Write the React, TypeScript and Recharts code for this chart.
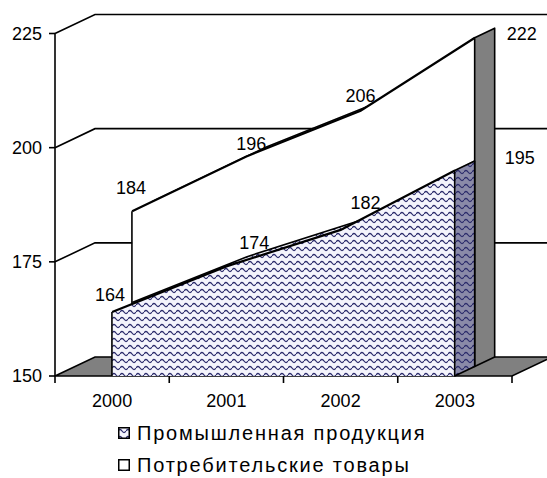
import { ComposedChart, Area, Bar, XAxis, YAxis, CartesianGrid, Legend } from "recharts";

const years = ["2000", "2001", "2002", "2003"];
const industry = [164, 174, 182, 195];
const consumer = [184, 196, 206, 222];
const yTicks = [150, 175, 200, 225];
const industryName = "Промышленная продукция";
const consumerName = "Потребительские товары";

const data = years.map((year, i) => ({ year, pos: i, industry: industry[i], consumer: consumer[i] }));
// ticks of the position axis: whole numbers are category edges, halves are the year labels
const slotTicks = [...years.flatMap((_, i) => [i, i + 0.5]), years.length];

// layout of the pseudo-3D box
const CHART_W = 560;
const CHART_H = 478;
const PLOT_TOP = 33.5;
const PLOT_BOTTOM = 376;
const PLOT_RIGHT = 552;
const AXIS_W = 55;
const X_AXIS_H = 40;
const DEPTH_X = 40;
const DEPTH_Y = 19;
const Y_MIN = 150;
const Y_MAX = 225;
const pxPerUnit = (PLOT_BOTTOM - PLOT_TOP) / (Y_MAX - Y_MIN);
// y domain / x padding for a plane pushed back by fraction f of the depth
const domainAt = (f: number): [number, number] => {
  const lift = (DEPTH_Y * f) / pxPerUnit;
  return [Y_MIN - lift, Y_MAX - lift];
};
const padAt = (f: number) => ({ left: DEPTH_X * f, right: DEPTH_X * (1 - f) });

const BLACK = "#000";
const FONT = 18;
const SIDE_GRAY = "#808080";
const WALL_W = 1.6;

// label offsets from each point
const industryNudge = [[-2, -17], [28, -23], [25, -27], [65, -13]];
const consumerNudge = [[-1, -23], [5, -12], [0, -15], [47, -4]];

function WallLine(p: any) {
  const { x1, x2, y1 } = p;
  if (Math.abs(y1 - PLOT_BOTTOM) < 1) {
    const pts = [
      [x1, y1],
      [x2 - DEPTH_X, y1],
      [x2, y1 - DEPTH_Y],
      [x1 + DEPTH_X, y1 - DEPTH_Y],
    ];
    return (
      <polygon
        points={pts.map((q) => q.join(",")).join(" ")}
        fill={SIDE_GRAY}
        stroke={BLACK}
        strokeWidth={WALL_W}
      />
    );
  }
  return (
    <polyline
      points={`${x1},${y1} ${x1 + DEPTH_X},${y1 - DEPTH_Y} ${x2},${y1 - DEPTH_Y}`}
      fill="none"
      stroke={BLACK}
      strokeWidth={WALL_W}
    />
  );
}

function XTick(p: any) {
  const { x, y, payload } = p;
  const v = payload.value;
  if (Number.isInteger(v)) {
    return <line x1={x} y1={y} x2={x} y2={y + 7} stroke={BLACK} strokeWidth={WALL_W} />;
  }
  return (
    <text x={x} y={y + 31} textAnchor="middle" fontSize={FONT} fill={BLACK}>
      {years[Math.floor(v)]}
    </text>
  );
}

// left edge on the first point, extruded side face on the last one
const sideShape = (fill: string) => (p: any) => {
  const { x, y, width, height, index } = p;
  const cx = x + width / 2;
  const bottom = y + height;
  if (index === 0) {
    return <line x1={cx} y1={y} x2={cx} y2={bottom} stroke={BLACK} strokeWidth={1.6} />;
  }
  if (index !== years.length - 1) return <g />;
  const dx = DEPTH_X / 2;
  const dy = DEPTH_Y / 2;
  return (
    <polygon
      points={`${cx},${y} ${cx + dx},${y - dy} ${cx + dx},${bottom - dy} ${cx},${bottom}`}
      fill={fill}
      stroke={BLACK}
      strokeWidth={1.6}
      strokeLinejoin="round"
    />
  );
};

const valueLabel = (values: number[], nudge: number[][]) => (p: any) => {
  const x = p.x ?? p.viewBox?.x;
  const y = p.y ?? p.viewBox?.y;
  const [dx, dy] = nudge[p.index] ?? [0, -15];
  return (
    <text x={x + dx} y={y + dy} textAnchor="middle" dominantBaseline="central" fontSize={FONT} fill={BLACK}>
      {values[p.index]}
    </text>
  );
};

function WavePattern({ id, bg }: { id: string; bg: string }) {
  return (
    <pattern id={id} width={8} height={7} patternUnits="userSpaceOnUse">
      <rect width={8} height={7} fill={bg} />
      <path d="M0 4 Q2 1 4 4 T8 4" fill="none" stroke="#2c2c6c" strokeWidth={1.3} />
    </pattern>
  );
}

function LegendBox() {
  const items = [
    { name: industryName, fill: "url(#waveIcon)" },
    { name: consumerName, fill: "#fff" },
  ];
  return (
    <div style={{ fontSize: 20, letterSpacing: "1.8px", color: BLACK, lineHeight: "32px" }}>
      {items.map((it) => (
        <div key={it.name} style={{ display: "flex", alignItems: "center", whiteSpace: "nowrap" }}>
          <svg width={12} height={12} style={{ marginRight: 7 }}>
            <defs>
              <WavePattern id="waveIcon" bg="#f4f4fc" />
            </defs>
            <rect x={0.75} y={0.75} width={10.5} height={10.5} fill={it.fill} stroke={BLACK} strokeWidth={1.5} />
          </svg>
          {it.name}
        </div>
      ))}
    </div>
  );
}

export default function App() {
  return (
    <div
      style={{
        position: "absolute",
        left: 0,
        top: 0,
        width: 547,
        height: 478,
        overflow: "hidden",
        background: "#fff",
        fontFamily: "'Liberation Sans', Arial, sans-serif",
      }}
    >
      <ComposedChart
        width={CHART_W}
        height={CHART_H}
        data={data}
        margin={{ top: PLOT_TOP, right: CHART_W - PLOT_RIGHT, bottom: CHART_H - PLOT_BOTTOM - X_AXIS_H, left: 0 }}
      >
        <defs>
          <WavePattern id="wave" bg="#f4f4fc" />
          <WavePattern id="waveDark" bg="#8a8aa8" />
        </defs>

        {/* category axes for the front, middle and back planes */}
        <XAxis xAxisId="f" dataKey="year" padding={padAt(0)} height={0} hide />
        <XAxis xAxisId="m" dataKey="year" padding={padAt(0.5)} height={0} hide />
        <XAxis xAxisId="b" dataKey="year" padding={padAt(1)} height={0} hide />
        {/* visible axis: edge tick marks and year labels */}
        <XAxis
          xAxisId="t"
          type="number"
          dataKey="pos"
          domain={[0, years.length]}
          allowDataOverflow
          ticks={slotTicks}
          interval={0}
          padding={padAt(0)}
          height={X_AXIS_H}
          axisLine={false}
          tickLine={false}
          tickSize={0}
          tickMargin={0}
          tick={XTick}
        />

        <YAxis
          yAxisId="f"
          width={AXIS_W}
          domain={[Y_MIN, Y_MAX]}
          ticks={yTicks}
          interval={0}
          stroke={BLACK}
          strokeWidth={1.6}
          tickSize={6}
          tickMargin={7}
          tick={{ fill: BLACK, fontSize: FONT }}
        />
        <YAxis yAxisId="m" domain={domainAt(0.5)} width={0} hide />
        <YAxis yAxisId="b" domain={domainAt(1)} width={0} allowDataOverflow hide />

        <CartesianGrid xAxisId="f" yAxisId="f" vertical={false} horizontal={WallLine} />

        {/* consumer goods: back half of the depth */}
        <Area
          xAxisId="b"
          yAxisId="b"
          dataKey="consumer"
          type="linear"
          baseValue={Y_MIN}
          fill="#fff"
          fillOpacity={1}
          stroke={BLACK}
          strokeWidth={1.6}
          dot={false}
          activeDot={false}
          isAnimationActive={false}
          zIndex={101}
        />
        <Area
          xAxisId="m"
          yAxisId="m"
          dataKey="consumer"
          name={consumerName}
          type="linear"
          baseValue={Y_MIN}
          fill="#fff"
          fillOpacity={1}
          stroke={BLACK}
          strokeWidth={2.2}
          dot={false}
          activeDot={false}
          label={valueLabel(consumer, consumerNudge)}
          isAnimationActive={false}
          zIndex={102}
        />
        <Bar
          xAxisId="m"
          yAxisId="m"
          dataKey={(d: any) => [Y_MIN, d.consumer]}
          shape={sideShape(SIDE_GRAY)}
          isAnimationActive={false}
          zIndex={103}
        />

        {/* industrial output: front half of the depth */}
        <Area
          xAxisId="m"
          yAxisId="m"
          dataKey="industry"
          type="linear"
          baseValue={Y_MIN}
          fill="url(#wave)"
          fillOpacity={1}
          stroke={BLACK}
          strokeWidth={1.6}
          dot={false}
          activeDot={false}
          isAnimationActive={false}
          zIndex={104}
        />
        <Area
          xAxisId="f"
          yAxisId="f"
          dataKey="industry"
          name={industryName}
          type="linear"
          baseValue={Y_MIN}
          fill="url(#wave)"
          fillOpacity={1}
          stroke={BLACK}
          strokeWidth={2.2}
          dot={false}
          activeDot={false}
          label={valueLabel(industry, industryNudge)}
          isAnimationActive={false}
          zIndex={105}
        />
        <Bar
          xAxisId="f"
          yAxisId="f"
          dataKey={(d: any) => [Y_MIN, d.industry]}
          shape={sideShape("url(#waveDark)")}
          isAnimationActive={false}
          zIndex={106}
        />

        <Legend
          layout="horizontal"
          verticalAlign="middle"
          align="center"
          wrapperStyle={{ left: 118, top: 417, width: 420 }}
          content={() => <LegendBox />}
        />
      </ComposedChart>
    </div>
  );
}
